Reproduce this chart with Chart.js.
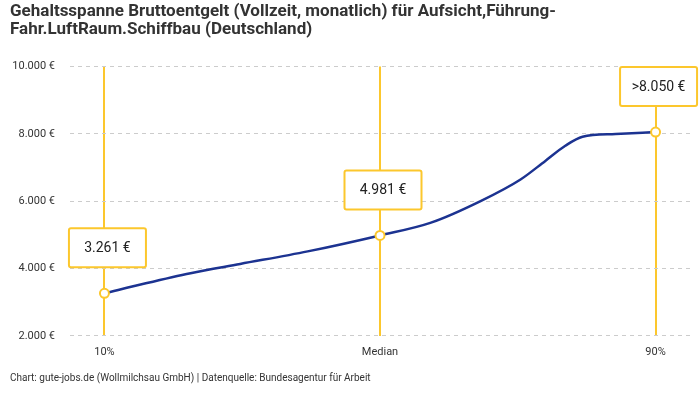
<!DOCTYPE html>
<html>
<head>
<meta charset="utf-8">
<script src="https://cdn.jsdelivr.net/npm/chart.js@4/dist/chart.umd.min.js"></script>
<style>
html,body{margin:0;padding:0;background:#fff;}
#wrap{width:700px;height:400px;}
</style>
</head>
<body>
<div id="wrap"><canvas id="c" width="700" height="400"></canvas></div>
<script>
// Curve points (percentile position, monthly EUR)
const curvePercentiles = [10, 16, 22.5, 29.7, 39.5, 50, 57.3, 64.6, 70.4, 74, 76.9, 79.4, 84.2, 90];
const curveValues      = [3261, 3561, 3860, 4134, 4507, 4981, 5352, 6000, 6642, 7194, 7642, 7910, 7991, 8050];

// Marked percentiles
const categories  = ['10%', 'Median', '90%'];
const markerPos   = [10, 50, 90];
const markerValues = [3261, 4981, 8050];
const markerLabels = ['3.261 €', '4.981 €', '>8.050 €'];

// Y-axis ticks
const yTicks = [2000, 4000, 6000, 8000, 10000];
const yTickLabels = ['2.000 €', '4.000 €', '6.000 €', '8.000 €', '10.000 €'];

const titleLines = ['Gehaltsspanne Bruttoentgelt (Vollzeit, monatlich) für Aufsicht,Führung-', 'Fahr.LuftRaum.Schiffbau (Deutschland)'];
const footerText = 'Chart: gute-jobs.de (Wollmilchsau GmbH) | Datenquelle: Bundesagentur für Arbeit';

const YELLOW = '#fcc72d';
const FONT = "'Roboto', 'Noto Sans', sans-serif";

const boxPlugin = {
  id: 'boxes',
  afterDatasetsDraw(chart) {
    const ctx = chart.ctx;
    const xs = chart.scales.x, ys = chart.scales.y;
    ctx.save();
    ctx.font = '14px ' + FONT;
    markerPos.forEach((p, i) => {
      const px = xs.getPixelForValue(p);
      const py = ys.getPixelForValue(markerValues[i]);
      const w = 77, h = 39;
      let left = px + 3 - w / 2;
      if (left + w > chart.width - 2) left = chart.width - 2 - w;
      const top = py - 26 - h;
      ctx.fillStyle = '#fff';
      ctx.strokeStyle = YELLOW;
      ctx.lineWidth = 2;
      ctx.beginPath();
      if (ctx.roundRect) ctx.roundRect(left, top, w, h, 2); else ctx.rect(left, top, w, h);
      ctx.fill();
      ctx.stroke();
      ctx.fillStyle = '#222';
      ctx.textAlign = 'center';
      ctx.textBaseline = 'middle';
      ctx.fillText(markerLabels[i], left + w / 2, top + h / 2 + 1);
    });
    ctx.restore();
  }
};

new Chart(document.getElementById('c'), {
  type: 'line',
  data: {
    datasets: [
      {
        data: curvePercentiles.map((p, i) => ({x: p, y: curveValues[i]})),
        borderColor: '#1c3391',
        borderWidth: 2.5,
        pointRadius: 0,
        cubicInterpolationMode: 'monotone',
        fill: false,
        order: 2
      },
      {
        data: markerPos.map((p, i) => ({x: p, y: markerValues[i]})),
        showLine: false,
        pointRadius: 4.5,
        pointBackgroundColor: '#fff',
        pointBorderColor: YELLOW,
        pointBorderWidth: 2,
        order: 1
      }
    ]
  },
  options: {
    responsive: false,
    animation: false,
    layout: {padding: {left: 10, right: 10, top: 0, bottom: 4}},
    plugins: {
      legend: {display: false},
      tooltip: {enabled: false},
      title: {
        display: true,
        text: titleLines,
        align: 'start',
        color: '#333',
        font: {family: FONT, size: 17, weight: 'bold', lineHeight: 1.1},
        padding: {top: 2, bottom: 27}
      },
      subtitle: {
        display: true,
        position: 'bottom',
        text: footerText,
        align: 'start',
        color: '#333',
        font: {family: FONT, size: 10},
        padding: {top: 3, bottom: 12}
      }
    },
    scales: {
      x: {
        type: 'linear',
        min: 5,
        max: 95,
        afterBuildTicks: (s) => { s.ticks = markerPos.map(v => ({value: v})); },
        ticks: {
          callback: (v) => categories[markerPos.indexOf(v)],
          color: '#333',
          font: {family: FONT, size: 11},
          padding: 10,
          maxRotation: 0
        },
        grid: {color: YELLOW, lineWidth: 2, drawTicks: false},
        border: {display: false}
      },
      y: {
        min: 2000,
        max: 10000,
        afterBuildTicks: (s) => { s.ticks = yTicks.map(v => ({value: v})); },
        afterFit: (s) => { s.width = 60; },
        ticks: {
          callback: (v) => yTickLabels[yTicks.indexOf(v)],
          color: '#333',
          font: {family: FONT, size: 11},
          padding: 15
        },
        grid: {color: '#cccccc', lineWidth: 1, drawTicks: false},
        border: {display: false, dash: [4, 4]}
      }
    }
  },
  plugins: [boxPlugin]
});
</script>
</body>
</html>
